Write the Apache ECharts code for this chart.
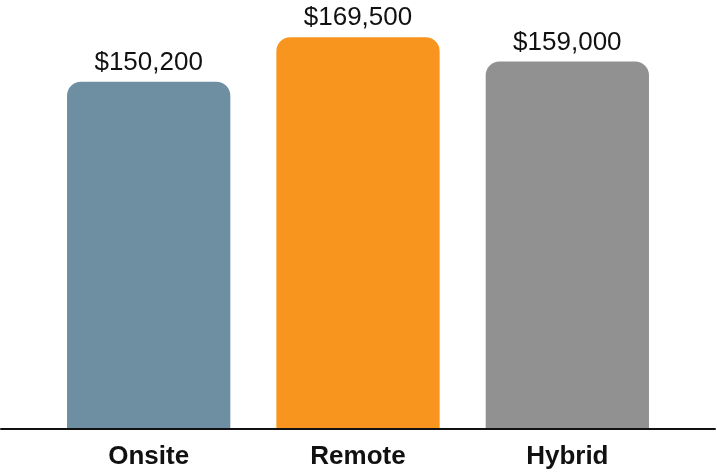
<!DOCTYPE html>
<html>
<head>
<meta charset="utf-8">
<script src="https://cdn.jsdelivr.net/npm/echarts@6/dist/echarts.min.js"></script>
<style>
html,body{margin:0;padding:0;background:#fff;}
#chart{width:717px;height:475px;}
</style>
</head>
<body>
<div id="chart"></div>
<script>
const categories = ['Onsite', 'Remote', 'Hybrid'];
const salaries = [150200, 169500, 159000];
const barColors = ['#6E8FA1', '#F7951F', '#919191'];

const chart = echarts.init(document.getElementById('chart'));
const FONT = '"Liberation Sans", Arial, Helvetica, sans-serif';

chart.setOption({
  animation: false,
  backgroundColor: '#ffffff',
  grid: [
    { left: 44, right: 45, top: 13, bottom: 47, containLabel: false },
    { left: 1, right: 2, top: 13, bottom: 46, containLabel: false }
  ],
  xAxis: [
    {
      type: 'category',
      gridIndex: 0,
      data: categories,
      axisLine: { show: false },
      axisTick: { show: false },
      axisLabel: {
        margin: 16,
        color: '#111',
        fontFamily: FONT,
        fontWeight: 'bold',
        fontSize: 26
      }
    },
    {
      type: 'value',
      gridIndex: 1,
      min: 0, max: 1,
      axisLine: { show: true, lineStyle: { color: '#111', width: 2 } },
      axisTick: { show: false },
      axisLabel: { show: false },
      splitLine: { show: false }
    }
  ],
  yAxis: [
    {
      type: 'value',
      gridIndex: 0,
      min: 0,
      max: 180000,
      show: false,
      splitLine: { show: false }
    },
    {
      type: 'value',
      gridIndex: 1,
      show: false,
      splitLine: { show: false }
    }
  ],
  series: [
    {
      type: 'bar',
      xAxisIndex: 0,
      yAxisIndex: 0,
      barWidth: '78%',
      data: salaries.map((v, i) => ({
        value: v,
        itemStyle: { color: barColors[i], borderRadius: [14, 14, 0, 0] }
      })),
      label: {
        show: true,
        position: 'top',
        distance: 6,
        color: '#111',
        fontFamily: FONT,
        fontSize: 26,
        formatter: p => '$' + p.value.toLocaleString('en-US')
      }
    }
  ]
});
</script>
</body>
</html>
